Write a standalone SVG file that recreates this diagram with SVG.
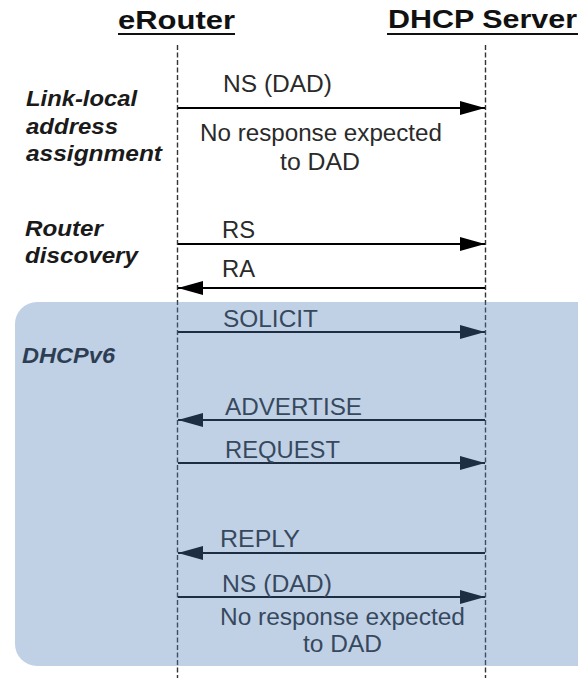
<svg xmlns="http://www.w3.org/2000/svg" width="578" height="678" viewBox="0 0 578 678">
<style>
.title{font-family:"Liberation Sans",Arial,sans-serif;font-weight:bold;font-size:25px;fill:#111}
.lbl{font-family:"Liberation Sans",Arial,sans-serif;font-weight:bold;font-style:italic;font-size:22px;fill:#1a1a1a}
.msg{font-family:"Liberation Sans",Arial,sans-serif;font-size:23px;fill:#2a2a2a}
.life{stroke:#333;stroke-width:1.4;stroke-dasharray:5 2.5;fill:none}
.arrow{stroke:#000;stroke-width:2;fill:none;marker-end:url(#ah)}
</style>
<defs>
<marker id="ah" markerUnits="userSpaceOnUse" markerWidth="25" markerHeight="14" refX="25" refY="7" orient="auto">
<path d="M0,0 L25,7 L0,14 z" fill="#000"/>
</marker>
</defs>
<rect width="578" height="678" fill="#fff"/>
<g id="eRouter">
<text class="title" x="118" y="29" textLength="117" lengthAdjust="spacingAndGlyphs">eRouter</text>
<rect x="118" y="33" width="117" height="2" fill="#111"/>
<line class="life" x1="177.5" y1="45" x2="177.5" y2="678"/>
</g>
<g id="dhcpServer">
<text class="title" x="388" y="28" textLength="189" lengthAdjust="spacingAndGlyphs">DHCP Server</text>
<rect x="387" y="33" width="191" height="2" fill="#111"/>
<line class="life" x1="485.5" y1="45" x2="485.5" y2="678"/>
</g>
<g id="labels">
<text class="lbl" x="26" y="106" textLength="111" lengthAdjust="spacingAndGlyphs">Link-local</text>
<text class="lbl" x="26" y="134" textLength="92" lengthAdjust="spacingAndGlyphs">address</text>
<text class="lbl" x="26" y="161" textLength="136" lengthAdjust="spacingAndGlyphs">assignment</text>
<text class="lbl" x="25" y="236" textLength="78" lengthAdjust="spacingAndGlyphs">Router</text>
<text class="lbl" x="25" y="263" textLength="113" lengthAdjust="spacingAndGlyphs">discovery</text>
<text class="lbl" x="22" y="363" textLength="93" lengthAdjust="spacingAndGlyphs">DHCPv6</text>
</g>
<g id="connectors">
<line class="arrow" x1="178" y1="108" x2="485" y2="108"/>
<line class="arrow" x1="178" y1="244" x2="485" y2="244"/>
<line class="arrow" x1="485" y1="288" x2="178" y2="288"/>
<line class="arrow" x1="178" y1="332" x2="485" y2="332"/>
<line class="arrow" x1="485" y1="420" x2="178" y2="420"/>
<line class="arrow" x1="178" y1="463" x2="485" y2="463"/>
<line class="arrow" x1="485" y1="553" x2="178" y2="553"/>
<line class="arrow" x1="178" y1="597" x2="485" y2="597"/>
</g>
<g id="messages">
<text class="msg" x="223" y="92" textLength="109" lengthAdjust="spacingAndGlyphs">NS (DAD)</text>
<text class="msg" x="200" y="141" textLength="242" lengthAdjust="spacingAndGlyphs">No response expected</text>
<text class="msg" x="280" y="170" textLength="80" lengthAdjust="spacingAndGlyphs">to DAD</text>
<text class="msg" x="222" y="238" textLength="33" lengthAdjust="spacingAndGlyphs">RS</text>
<text class="msg" x="222" y="277" textLength="33" lengthAdjust="spacingAndGlyphs">RA</text>
<text class="msg" x="223" y="327" textLength="95" lengthAdjust="spacingAndGlyphs">SOLICIT</text>
<text class="msg" x="225" y="415" textLength="137" lengthAdjust="spacingAndGlyphs">ADVERTISE</text>
<text class="msg" x="225" y="458" textLength="115" lengthAdjust="spacingAndGlyphs">REQUEST</text>
<text class="msg" x="220" y="547" textLength="80" lengthAdjust="spacingAndGlyphs">REPLY</text>
<text class="msg" x="222" y="592" textLength="110" lengthAdjust="spacingAndGlyphs">NS (DAD)</text>
<text class="msg" x="220" y="625" textLength="245" lengthAdjust="spacingAndGlyphs">No response expected</text>
<text class="msg" x="303" y="652" textLength="79" lengthAdjust="spacingAndGlyphs">to DAD</text>
</g>
<g id="dhcpv6Region">
<rect x="15" y="302" width="600" height="364" rx="22" ry="22" fill="#5080ba" fill-opacity="0.36"/>
</g>
</svg>
